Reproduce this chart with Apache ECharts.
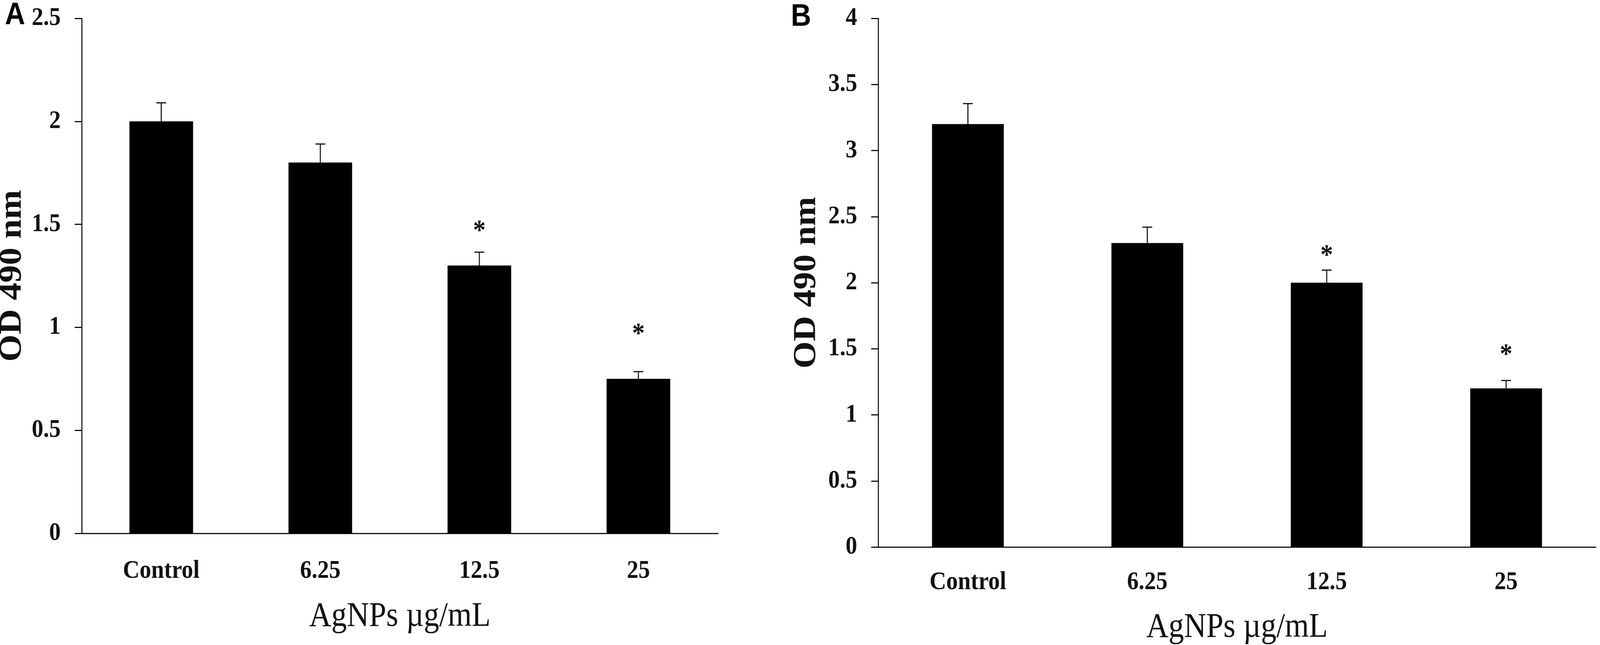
<!doctype html>
<html>
<head>
<meta charset="utf-8">
<title>OD 490 nm</title>
<script src="https://cdn.jsdelivr.net/npm/echarts@6/dist/echarts.min.js"></script>
<style>
  html, body { margin: 0; padding: 0; background: #fff; overflow: hidden; }
  #main { width: 4562px; height: 1652px; transform-origin: 0 0; }
</style>
</head>
<body>
<div id="main"></div>
<script>
// AgNPs concentrations
var categories = ['Control', '6.25', '12.5', '25'];

// panel A
var meanA = [2.0, 1.8, 1.3, 0.75];
var errA = [0.09, 0.09, 0.065, 0.035];
var starA = [null, null, 1.49, 0.99];

// panel B
var meanB = [3.2, 2.3, 2.0, 1.2];
var errB = [0.155, 0.12, 0.095, 0.06];
var starB = [null, null, 2.24, 1.49];

var serif = 'Liberation Serif';
var ink = '#111';

// the page is laid out in reference pixels; fit it to whatever the window really is
var dom = document.getElementById('main');
var kx = window.innerWidth / 4562;
var ky = window.innerHeight / 1652;
if (Math.abs(kx - 1) > 0.001 || Math.abs(ky - 1) > 0.001) {
    dom.style.transform = 'scale(' + kx + ',' + ky + ')';
}

function errorItem(params, api) {
    var i = api.value(0);
    var m = api.value(1);
    var e = api.value(2);
    var base = api.coord([i, m]);
    var top = api.coord([i, m + e]);
    var half = 14;
    var style = { stroke: ink, lineWidth: 3 };
    return {
        type: 'group',
        children: [
            { type: 'line', shape: { x1: base[0], y1: base[1], x2: top[0], y2: top[1] }, style: style },
            { type: 'line', shape: { x1: top[0] - half, y1: top[1], x2: top[0] + half, y2: top[1] }, style: style }
        ]
    };
}

function starItem(params, api) {
    var p = api.coord([api.value(0), api.value(1)]);
    return {
        type: 'text',
        style: {
            text: '*', x: p[0], y: p[1] + 14,
            align: 'center', verticalAlign: 'middle',
            fontSize: 72, fontWeight: 'bold', fontFamily: serif, fill: ink
        }
    };
}

function starData(arr) {
    var d = [];
    arr.forEach(function (v, i) { if (v != null) d.push([i, v]); });
    return d;
}

function xAxisOf(gridIndex, labelMargin, nameGap) {
    return {
        gridIndex: gridIndex,
        type: 'category',
        data: categories,
        name: 'AgNPs µg/mL',
        nameLocation: 'middle',
        nameGap: nameGap,
        nameTextStyle: { fontFamily: serif, fontSize: 88, color: ink },
        axisLine: { lineStyle: { color: ink, width: 3 } },
        axisTick: { length: 22, lineStyle: { color: ink, width: 3 } },
        axisLabel: { margin: labelMargin, fontFamily: serif, fontWeight: 'bold', fontSize: 66, color: ink }
    };
}

function yAxisOf(gridIndex, max, nameGap) {
    return {
        gridIndex: gridIndex,
        type: 'value',
        min: 0,
        max: max,
        interval: 0.5,
        name: 'OD 490 nm',
        nameLocation: 'middle',
        nameGap: nameGap,
        nameTextStyle: { fontFamily: serif, fontWeight: 'bold', fontSize: 90, color: ink },
        axisLine: { show: true, lineStyle: { color: ink, width: 3 } },
        axisTick: { show: true, length: 20, lineStyle: { color: ink, width: 3 } },
        axisLabel: { margin: 60, fontFamily: serif, fontWeight: 'bold', fontSize: 66, color: ink },
        splitLine: { show: false }
    };
}

var chart = echarts.init(dom);
chart.setOption({
    backgroundColor: '#fff',
    animation: false,
    title: [
        { text: 'A', left: 14, top: 0, padding: 0,
          textStyle: { fontFamily: 'Liberation Sans', fontWeight: 'bold', fontSize: 80, color: '#000' } },
        { text: 'B', left: 2255, top: 4, padding: 0,
          textStyle: { fontFamily: 'Liberation Sans', fontWeight: 'bold', fontSize: 80, color: '#000' } }
    ],
    grid: [
        { left: 233, top: 47, width: 1814, height: 1319, outerBoundsMode: 'none' },
        { left: 2504, top: 47, width: 2046, height: 1354, outerBoundsMode: 'none' }
    ],
    xAxis: [xAxisOf(0, 64, 170), xAxisOf(1, 58, 163)],
    yAxis: [yAxisOf(0, 2.5, 152), yAxisOf(1, 4, 158)],
    series: [
        { type: 'bar', xAxisIndex: 0, yAxisIndex: 0, data: meanA, barWidth: '40%',
          itemStyle: { color: '#000' } },
        { type: 'custom', xAxisIndex: 0, yAxisIndex: 0, renderItem: errorItem, z: 5,
          encode: { x: 0, y: 1 },
          data: categories.map(function (c, i) { return [i, meanA[i], errA[i]]; }) },
        { type: 'custom', xAxisIndex: 0, yAxisIndex: 0, renderItem: starItem, z: 5,
          encode: { x: 0, y: 1 }, data: starData(starA) },

        { type: 'bar', xAxisIndex: 1, yAxisIndex: 1, data: meanB, barWidth: '40%',
          itemStyle: { color: '#000' } },
        { type: 'custom', xAxisIndex: 1, yAxisIndex: 1, renderItem: errorItem, z: 5,
          encode: { x: 0, y: 1 },
          data: categories.map(function (c, i) { return [i, meanB[i], errB[i]]; }) },
        { type: 'custom', xAxisIndex: 1, yAxisIndex: 1, renderItem: starItem, z: 5,
          encode: { x: 0, y: 1 }, data: starData(starB) }
    ]
});
</script>
</body>
</html>
